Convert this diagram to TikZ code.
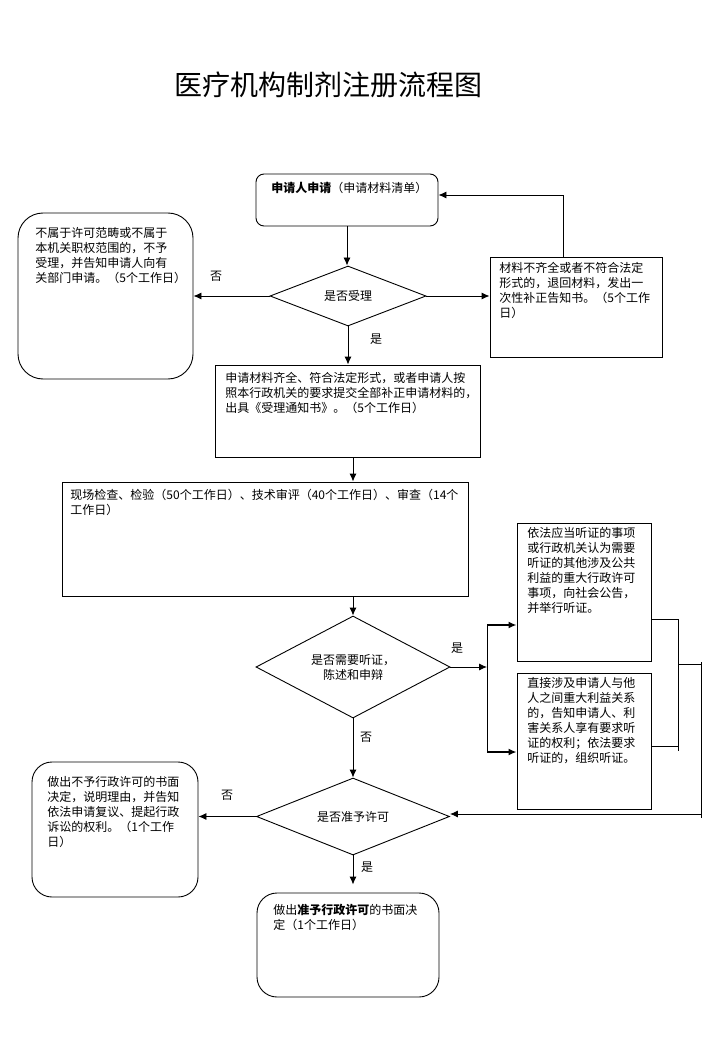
\documentclass[tikz,border=0pt]{standalone}
\usepackage{fontspec}
\newfontfamily\cjk{Noto Sans CJK SC}
\usetikzlibrary{shapes.geometric}
\usetikzlibrary{arrows.meta}

\begin{document}
\begin{tikzpicture}[x=1pt,y=-1pt,line width=0.9pt,>={Latex[length=8pt,width=7pt]},
  box/.style={draw,rectangle,inner sep=0pt},
  dia/.style={draw,diamond,inner sep=0pt,aspect=1.9,align=center,font=\cjk\fontsize{12}{15}\selectfont},
  txt/.style={anchor=north west,inner sep=0pt,align=left,font=\cjk\fontsize{12}{15}\selectfont},
  lbl/.style={inner sep=0pt,font=\cjk\fontsize{12}{15}\selectfont},
  thk/.style={line width=2.2pt}]

\useasboundingbox (0,0) rectangle (720,1040);

% title
\node[font=\cjk\fontsize{28}{30}\selectfont] (title) at (328,85) {医疗机构制剂注册流程图};

% boxes
\node[box,rounded corners=8pt,minimum width=182pt,minimum height=52pt] (apply) at (347,200) {};
\node[box,rounded corners=25pt,minimum width=175pt,minimum height=166pt] (reject) at (105.5,296) {};
\node[box,minimum width=172pt,minimum height=100pt] (fix) at (576,307) {};
\node[box,minimum width=265pt,minimum height=92pt] (accepted) at (347.5,411) {};
\node[box,minimum width=406pt,minimum height=114pt] (review) at (265,539) {};
\node[box,minimum width=134pt,minimum height=138pt] (public) at (584,592) {};
\node[box,minimum width=134pt,minimum height=136pt] (direct) at (584,741) {};
\node[box,rounded corners=20pt,minimum width=166pt,minimum height=135pt] (deny) at (115,829.5) {};
\node[box,rounded corners=20pt,minimum width=182pt,minimum height=104pt] (grant) at (348,945) {};

% decisions
\node[dia,minimum width=156pt,minimum height=60pt] (accept) at (348,296) {是否受理};
\node[dia,minimum width=194pt,minimum height=102pt] (hearing) at (353,667) {是否需要听证，\\陈述和申辩};
\node[dia,minimum width=193pt,minimum height=77pt] (permit) at (353,816.5) {是否准予许可};

% box texts
\node[txt] (applyT) at (271,182) {{\bfseries 申请人申请}（申请材料清单）};
\node[txt] (rejectT) at (35,227) {不属于许可范畴或不属于\\本机关职权范围的，不予\\受理，并告知申请人向有\\关部门申请。（5个工作日）};
\node[txt] (fixT) at (499,262) {材料不齐全或者不符合法定\\形式的，退回材料，发出一\\次性补正告知书。（5个工作\\日）};
\node[txt] (acceptedT) at (225,372) {申请材料齐全、符合法定形式，或者申请人按\\照本行政机关的要求提交全部补正申请材料的，\\出具《受理通知书》。（5个工作日）};
\node[txt] (reviewT) at (70,489) {现场检查、检验（50个工作日）、技术审评（40个工作日）、审查（14个\\工作日）};
\node[txt] (publicT) at (527,527) {依法应当听证的事项\\或行政机关认为需要\\听证的其他涉及公共\\利益的重大行政许可\\事项，向社会公告，\\并举行听证。};
\node[txt] (directT) at (527,677) {直接涉及申请人与他\\人之间重大利益关系\\的，告知申请人、利\\害关系人享有要求听\\证的权利；依法要求\\听证的，组织听证。};
\node[txt] (denyT) at (47,776) {做出不予行政许可的书面\\决定，说明理由，并告知\\依法申请复议、提起行政\\诉讼的权利。（1个工作\\日）};
\node[txt] (grantT) at (273,904) {做出{\bfseries 准予行政许可}的书面决\\定（1个工作日）};

% yes / no labels
\node[lbl] (no1) at (216,276) {否};
\node[lbl] (yes1) at (376,339) {是};
\node[lbl] (yes2) at (457,648) {是};
\node[lbl] (no2) at (366,737) {否};
\node[lbl] (no3) at (227,795) {否};
\node[lbl] (yes3) at (367,867) {是};

% connectors
\draw[->] (apply.south) -- (apply.south |- accept.north);
\draw[->] (accept.west) -- (reject.east);
\draw[->] (accept.east) -- (accept.east -| fix.west);
\draw[->] ([xshift=-13pt]fix.north) |- ([yshift=5pt]apply.east);
\draw[->] (accept.south) -- (accept.south |- accepted.north);
\draw[->] (hearing.north |- accepted.south) -- (hearing.north |- review.north);
\draw[->] (hearing.north |- review.south) -- (hearing.north);

% hearing fork
\coordinate (fork) at (487,667);
\coordinate (forkT) at (487,625);
\coordinate (forkB) at (487,752);
\draw[->] (hearing.east) -- (fork);
\draw (forkT) -- (forkB);
\draw[thk,->] (forkT) -- (forkT -| public.west);
\draw[thk,->] (forkB) -- (forkB -| direct.west);

% back to permit
\coordinate (joinA) at (678,619);
\coordinate (joinB) at (678,751);
\coordinate (joinC) at (701,662);
\coordinate (joinD) at (701,818);
\coordinate (back) at (701,814);
\draw (joinA -| public.east) -- (joinA) -- (joinB);
\draw ([yshift=-5pt]direct.east) -- ([yshift=-5pt]direct.east -| joinA);
\draw (678,664) -- (701,664);
\draw (joinC) -- (joinD);
\draw[->] (back) -- (back -| permit.east);

\draw[->] (hearing.south) -- (permit.north);
\draw[->] (permit.west) -- (permit.west -| deny.east);
\draw[->,shorten >=8pt] (permit.south) -- (permit.south |- grant.north);

\end{tikzpicture}
\end{document}
